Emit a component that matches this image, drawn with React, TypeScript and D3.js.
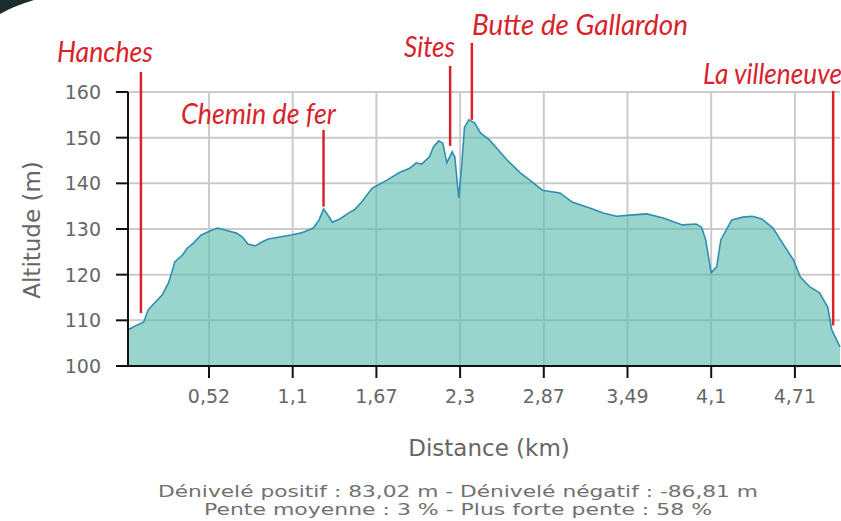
import * as d3 from 'd3';
import React from 'react';

// profil altimétrique (km, m)
const distances = [
  0, 0.01, 0.06, 0.1, 0.13, 0.17, 0.22, 0.26, 0.29, 0.3, 0.35, 0.38, 0.42, 0.47,
  0.53, 0.58, 0.63, 0.71, 0.75, 0.79, 0.84, 0.89, 0.93, 1.0, 1.09, 1.15, 1.18,
  1.24, 1.28, 1.31, 1.34, 1.37, 1.42, 1.49, 1.52, 1.57, 1.64, 1.68, 1.75, 1.84,
  1.92, 1.97, 2.01, 2.07, 2.1, 2.14, 2.17, 2.2, 2.24, 2.26, 2.29, 2.31, 2.33,
  2.36, 2.4, 2.44, 2.5, 2.62, 2.71, 2.79, 2.86, 2.99, 3.08, 3.21, 3.31, 3.41,
  3.53, 3.63, 3.75, 3.89, 3.99, 4.03, 4.06, 4.1, 4.14, 4.17, 4.21, 4.25, 4.33,
  4.4, 4.47, 4.55, 4.62, 4.7, 4.75, 4.82, 4.89, 4.95, 4.98, 5.04,
];
const altitudes = [
  108.3, 108.1, 109.0, 109.6, 112.3, 113.8, 115.6, 118.2, 121.5, 122.8, 124.3,
  125.8, 126.9, 128.7, 129.6, 130.2, 129.8, 129.1, 128.3, 126.7, 126.3, 127.2,
  127.8, 128.2, 128.7, 129.1, 129.4, 130.2, 132.0, 134.4, 133.0, 131.5, 132.2,
  133.7, 134.2, 135.9, 138.9, 139.6, 140.7, 142.3, 143.3, 144.5, 144.2, 145.8,
  148.0, 149.3, 148.8, 144.5, 146.9, 145.8, 136.8, 143.6, 152.3, 153.9, 153.2,
  151.0, 149.5, 145.1, 142.3, 140.3, 138.5, 137.9, 135.9, 134.6, 133.5, 132.8,
  133.1, 133.3, 132.4, 130.9, 131.1, 130.4, 127.6, 120.4, 121.7, 127.6, 129.8,
  132.0, 132.6, 132.8, 132.2, 130.2, 126.9, 123.2, 119.5, 117.3, 116.0, 112.9,
  107.9, 104.2,
];

const xTicks = [0.52, 1.1, 1.67, 2.3, 2.87, 3.49, 4.1, 4.71];
const yTicks = [100, 110, 120, 130, 140, 150, 160];

// repères : nom, position (km), altitude du bas du trait
const poiNames = ['Hanches', 'Chemin de fer', 'Sites', 'Butte de Gallardon', 'La villeneuve'];
const poiKm = [0.083, 1.31, 2.225, 2.38, 4.99];
const poiAlt = [111.6, 134.9, 148.2, 153.9, 108.9];

const statsLines = [
  'Dénivelé positif : 83,02 m - Dénivelé négatif : -86,81 m',
  'Pente moyenne : 3 % - Plus forte pente : 58 %',
];

const W = 841,
  H = 521;
const left = 128,
  right = 840,
  top = 92,
  bottom = 366;
const firstTick = 209,
  tickStep = 83.7;

// mise en page des étiquettes rouges
const poiLayout = [
  { tx: 57, ty: 62, len: 96, lineTop: 72 },
  { tx: 181, ty: 124, len: 155, lineTop: 130 },
  { tx: 404, ty: 57, len: 51, lineTop: 66 },
  { tx: 472, ty: 35, len: 216, lineTop: 43 },
  { tx: 703, ty: 84, len: 139, lineTop: 91 },
];
const statsLen = [600, 508];

const sans = '"DejaVu Sans", Verdana, sans-serif';

export default function App() {
  const x = d3
    .scaleLinear()
    .domain([0, ...xTicks, distances[distances.length - 1]])
    .range([left, ...xTicks.map((_, i) => firstTick + i * tickStep), right]);
  const y = d3.scaleLinear().domain([100, 160]).range([bottom, top]);

  const data = distances.map((d, i) => ({ km: d, alt: altitudes[i] }));
  const area = d3
    .area<{ km: number; alt: number }>()
    .x((d) => x(d.km))
    .y0(y(100))
    .y1((d) => y(d.alt));
  const line = d3
    .line<{ km: number; alt: number }>()
    .x((d) => x(d.km))
    .y((d) => y(d.alt));

  const fmt = (v: number) => String(v).replace('.', ',');

  return (
    <svg
      width={W}
      height={H}
      style={{ position: 'absolute', left: 0, top: 0, background: '#fff' }}
    >
      <path d="M0,0 L34,0 Q14,6 0,14 Z" fill="#1c2b2d" />

      {/* grille */}
      <g stroke="#cbcbcb" strokeWidth={2}>
        {yTicks.slice(1).map((t) => (
          <line key={t} x1={left} x2={right} y1={y(t)} y2={y(t)} />
        ))}
        {xTicks.map((t) => (
          <line key={t} x1={x(t)} x2={x(t)} y1={top} y2={bottom} />
        ))}
      </g>

      <path d={area(data) || ''} fill="#5fbcb1" fillOpacity={0.64} />
      <path d={line(data) || ''} fill="none" stroke="#2f8fb0" strokeWidth={1.6} />

      {/* axes */}
      <g stroke="#111" strokeWidth={2}>
        <line x1={left} x2={left} y1={top} y2={bottom + 1} />
        <line x1={left - 1} x2={right + 1} y1={bottom} y2={bottom} />
        {yTicks.map((t) => (
          <line key={t} x1={left - 12} x2={left} y1={y(t)} y2={y(t)} />
        ))}
        {xTicks.map((t) => (
          <line key={t} x1={x(t)} x2={x(t)} y1={bottom} y2={bottom + 12} />
        ))}
      </g>
      <g fill="#666" fontFamily={sans} fontSize={19}>
        {yTicks.map((t) => (
          <text key={t} x={101} y={y(t)} dy="0.36em" textAnchor="end">
            {t}
          </text>
        ))}
        {xTicks.map((t) => (
          <text key={t} x={x(t)} y={403} textAnchor="middle">
            {fmt(t)}
          </text>
        ))}
      </g>
      <text
        x={489}
        y={456}
        textAnchor="middle"
        fill="#666"
        fontFamily={sans}
        fontSize={23}
      >
        Distance (km)
      </text>
      <text
        transform={`translate(40,230) rotate(-90)`}
        textAnchor="middle"
        fill="#666"
        fontFamily={sans}
        fontSize={23}
      >
        Altitude (m)
      </text>

      <g fill="#707070" fontFamily={sans} fontSize={16.5}>
        {statsLines.map((s, i) => (
          <text
            key={i}
            x={458 - statsLen[i] / 2}
            y={497 + i * 18}
            textLength={statsLen[i]}
            lengthAdjust="spacingAndGlyphs"
          >
            {s}
          </text>
        ))}
      </g>

      {/* repères */}
      {poiNames.map((n, i) => {
        const p = poiLayout[i];
        return (
          <g key={n}>
            <line
              x1={x(poiKm[i])}
              x2={x(poiKm[i])}
              y1={p.lineTop}
              y2={y(poiAlt[i])}
              stroke="#d7242c"
              strokeWidth={2.5}
            />
            <text
              x={p.tx}
              y={p.ty}
              fill="#d7242c"
              fontFamily="Lato, sans-serif"
              fontStyle="italic"
              fontSize={28}
              textLength={p.len}
              lengthAdjust="spacingAndGlyphs"
            >
              {n}
            </text>
          </g>
        );
      })}
    </svg>
  );
}
